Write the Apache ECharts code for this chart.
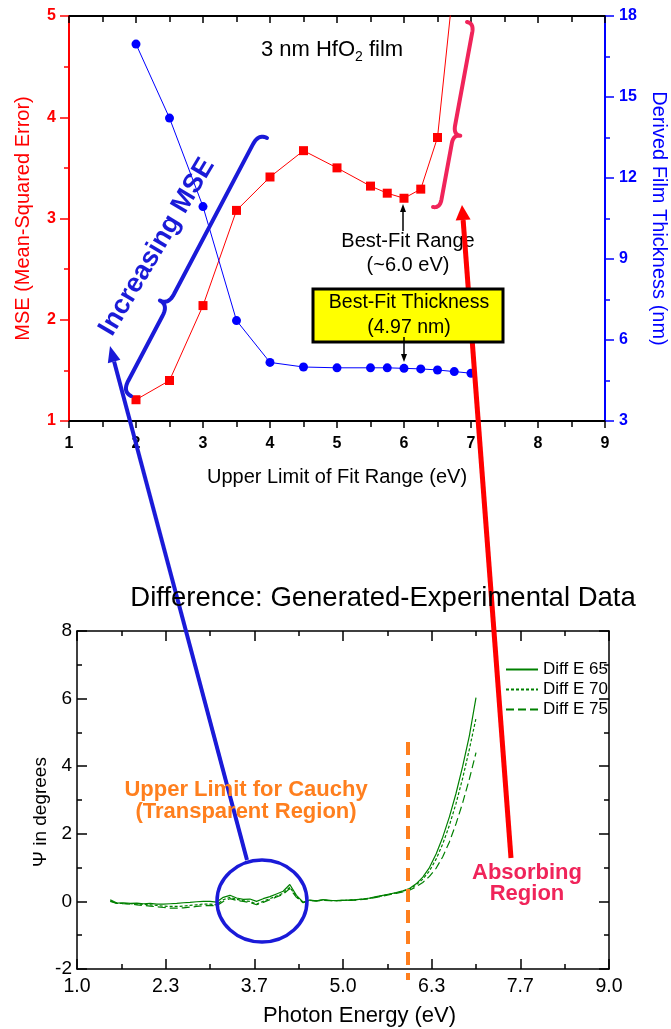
<!DOCTYPE html>
<html>
<head>
<meta charset="utf-8">
<script src="https://cdn.jsdelivr.net/npm/echarts@6/dist/echarts.min.js"></script>
<style>
  html, body { margin: 0; padding: 0; background: #fff; }
  #main { width: 671px; height: 1029px; }
</style>
</head>
<body>
<div id="main"></div>
<script>
// upper chart: MSE and thickness vs upper limit of fit range
const fitUpper = [2, 2.5, 3, 3.5, 4, 4.5, 5, 5.5, 5.75, 6, 6.25, 6.5, 6.75, 7];
const mseValues = [1.21, 1.40, 2.14, 3.08, 3.41, 3.67, 3.50, 3.32, 3.25, 3.20, 3.29, 3.80, 5.38, 6.96];
const thicknessValues = [16.96, 14.22, 10.94, 6.72, 5.17, 5.00, 4.97, 4.97, 4.97, 4.95, 4.93, 4.89, 4.83, 4.77];

// lower chart: difference generated - experimental
const photonEnergy = [1.5, 1.6, 1.7, 1.8, 1.9, 2.0, 2.1, 2.2, 2.3, 2.4, 2.5, 2.6, 2.7, 2.8, 2.9, 3.0, 3.1, 3.2, 3.3, 3.4,
  3.5, 3.6, 3.7, 3.8, 3.9, 4.0, 4.1, 4.2, 4.3, 4.4, 4.5, 4.6, 4.7, 4.8, 4.9, 5.0, 5.1, 5.2, 5.3, 5.4,
  5.5, 5.6, 5.7, 5.8, 5.9, 6.0, 6.1, 6.2, 6.3, 6.4, 6.5, 6.6, 6.7, 6.8, 6.9, 7.0];
const diffE65 = [0.05, -0.05, -0.04, -0.06, -0.05, -0.07, -0.06, -0.08, -0.08, -0.07,
  -0.06, -0.04, -0.03, -0.01, 0.0, 0.0, -0.02, 0.12, 0.18, 0.10,
  0.06, 0.07, 0.0, 0.08, 0.14, 0.22, 0.30, 0.50, 0.18, -0.02,
  0.04, 0.02, 0.05, 0.03, 0.02, 0.03, 0.04, 0.05, 0.07, 0.10,
  0.14, 0.18, 0.22, 0.26, 0.31, 0.38, 0.52, 0.72, 1.0, 1.4,
  1.9, 2.5, 3.2, 4.0, 4.9, 6.03];
const diffE70 = [0.02, -0.06, -0.06, -0.07, -0.08, -0.09, -0.10, -0.12, -0.14, -0.15,
  -0.15, -0.14, -0.12, -0.10, -0.08, -0.08, -0.10, 0.05, 0.12, 0.06,
  0.02, 0.0, -0.08, 0.0, 0.08, 0.16, 0.24, 0.42, 0.14, -0.03,
  0.03, 0.02, 0.04, 0.03, 0.02, 0.03, 0.04, 0.05, 0.07, 0.09,
  0.13, 0.17, 0.21, 0.25, 0.30, 0.36, 0.49, 0.66, 0.9, 1.25,
  1.7, 2.25, 2.9, 3.65, 4.5, 5.42];
const diffE75 = [0.0, -0.06, -0.07, -0.08, -0.10, -0.12, -0.14, -0.16, -0.18, -0.20,
  -0.20, -0.19, -0.17, -0.15, -0.13, -0.12, -0.13, 0.0, 0.08, 0.03,
  0.0, -0.03, -0.10, -0.03, 0.05, 0.13, 0.21, 0.38, 0.12, -0.04,
  0.02, 0.01, 0.03, 0.02, 0.02, 0.03, 0.03, 0.04, 0.06, 0.08,
  0.12, 0.16, 0.20, 0.24, 0.28, 0.33, 0.43, 0.56, 0.74, 0.98,
  1.32, 1.76, 2.3, 2.92, 3.62, 4.4];

const FONT = "'Liberation Sans', Arial, sans-serif";
const chart = echarts.init(document.getElementById("main"));

function pairs(xs, ys) {
  return xs.map((x, i) => [x, ys[i]]);
}

// arrow with filled head at (x2, y2)
function arrow(x1, y1, x2, y2, color, w, headLen, headW, z) {
  z = z || 100;
  const dx = x2 - x1, dy = y2 - y1, L = Math.hypot(dx, dy);
  const ux = dx / L, uy = dy / L;
  const bx = x2 - ux * headLen, by = y2 - uy * headLen;
  return [
    { type: "line", z: z, shape: { x1: x1, y1: y1, x2: bx, y2: by }, style: { stroke: color, lineWidth: w } },
    { type: "polygon", z: z, shape: { points: [[x2, y2], [bx - uy * headW / 2, by + ux * headW / 2], [bx + uy * headW / 2, by - ux * headW / 2]] }, style: { fill: color } }
  ];
}

// curly brace from p0 to p1, cusp at distance sc, pointing to side (sampled as polyline)
function brace(p0, p1, sc, h, r, side, color, w) {
  const dx = p1[0] - p0[0], dy = p1[1] - p0[1], L = Math.hypot(dx, dy);
  const ux = dx / L, uy = dy / L;
  const nx = -uy * side, ny = ux * side;
  const P = (s, d) => [p0[0] + ux * s + nx * d, p0[1] + uy * s + ny * d];
  const pts = [];
  function quad(a, c, b) {
    for (let i = 0; i <= 12; i++) {
      const t = i / 12, m = 1 - t;
      pts.push([m * m * a[0] + 2 * m * t * c[0] + t * t * b[0], m * m * a[1] + 2 * m * t * c[1] + t * t * b[1]]);
    }
  }
  quad(P(0, 0), P(0, h), P(r, h));
  quad(P(sc - r, h), P(sc, h), P(sc, 2 * h));
  quad(P(sc, 2 * h), P(sc, h), P(sc + r, h));
  quad(P(L - r, h), P(L, h), P(L, 0));
  return { type: "polyline", z: 100, shape: { points: pts }, style: { fill: null, stroke: color, lineWidth: w, lineCap: "round", lineJoin: "round" } };
}

const blueAnn = "#1a1ad8";
const redAnn = "#f0245a";

const graphics = [
  // top chart title
  {
    type: "text", z: 100, x: 332, y: 50,
    style: {
      text: "{a|3 nm HfO}{s|2}{a| film}", align: "center", verticalAlign: "middle",
      rich: {
        a: { fontFamily: FONT, fontSize: 22, fill: "#000", lineHeight: 28 },
        s: { fontFamily: FONT, fontSize: 14, fill: "#000", verticalAlign: "bottom", lineHeight: 14 }
      }
    }
  },
  {
    type: "text", z: 100, x: 408, y: 253,
    style: { text: "Best-Fit Range\n(~6.0 eV)", fontFamily: FONT, fontSize: 20, lineHeight: 24, fill: "#000", align: "center", verticalAlign: "middle" }
  },
  ...arrow(403, 231, 403, 204, "#000", 1.5, 8, 6),
  ...arrow(511, 858, 462, 205, "#ff0000", 5, 15, 15),
  {
    type: "rect", z: 110, shape: { x: 313, y: 289, width: 190, height: 53 },
    style: { fill: "#ffff00", stroke: "#000", lineWidth: 3 }
  },
  {
    type: "text", z: 111, x: 409, y: 315,
    style: { text: "Best-Fit Thickness\n(4.97 nm)", fontFamily: FONT, fontSize: 19.5, lineHeight: 25, fill: "#000", align: "center", verticalAlign: "middle" }
  },
  ...arrow(404, 337, 404, 362, "#000", 1.5, 8, 6, 112),
  brace([131, 396], [267, 138], 98, 9.5, 12, -1, blueAnn, 4),
  {
    type: "text", z: 100, x: 157, y: 247, rotation: 59.3 * Math.PI / 180,
    style: { text: "Increasing MSE", fontFamily: FONT, fontWeight: "bold", fontSize: 27, fill: blueAnn, align: "center", verticalAlign: "middle" }
  },
  brace([433, 207], [467, 22], 75, 7, 9, 1, redAnn, 4),
  ...arrow(247, 860, 110, 346, blueAnn, 4, 16, 13),
  // bottom chart title
  {
    type: "text", z: 100, x: 383, y: 598,
    style: { text: "Difference: Generated-Experimental Data", fontFamily: FONT, fontSize: 27.5, fill: "#000", align: "center", verticalAlign: "middle" }
  },
  {
    type: "text", z: 100, x: 246, y: 801,
    style: { text: "Upper Limit for Cauchy\n(Transparent Region)", fontFamily: FONT, fontWeight: "bold", fontSize: 22, lineHeight: 22, fill: "#ff7f1e", align: "center", verticalAlign: "middle" }
  },
  {
    type: "line", z: 100, shape: { x1: 408, y1: 742, x2: 408, y2: 980 },
    style: { stroke: "#ff7f1e", lineWidth: 4, lineDash: [13, 8] }
  },
  {
    type: "ellipse", z: 100, shape: { cx: 262, cy: 901, rx: 45, ry: 41 },
    style: { fill: null, stroke: blueAnn, lineWidth: 3.5 }
  },
  {
    type: "text", z: 100, x: 527, y: 883,
    style: { text: "Absorbing\nRegion", fontFamily: FONT, fontWeight: "bold", fontSize: 22, lineHeight: 21, fill: redAnn, align: "center", verticalAlign: "middle" }
  }
];

const option = {
  animation: false,
  backgroundColor: "#fff",
  textStyle: { fontFamily: FONT },
  grid: [
    { left: 69, right: 66, top: 16, height: 405, outerBoundsMode: "none" },
    { left: 77, right: 62, top: 631, height: 338, outerBoundsMode: "none" }
  ],
  legend: {
    data: ["Diff E 65", "Diff E 70", "Diff E 75"],
    orient: "vertical", left: 500, top: 656,
    itemWidth: 32, itemHeight: 12, itemGap: 3,
    itemStyle: { opacity: 0 },
    textStyle: { fontFamily: FONT, fontSize: 17, color: "#000" }
  },
  xAxis: [
    {
      gridIndex: 0, type: "value", position: "bottom", min: 1, max: 9, interval: 1,
      name: "Upper Limit of Fit Range (eV)", nameLocation: "middle", nameGap: 46,
      nameTextStyle: { fontFamily: FONT, fontSize: 20, color: "#000" },
      axisLine: { onZero: false, lineStyle: { color: "#000", width: 2 } },
      axisTick: { show: true, inside: false, length: 7, lineStyle: { width: 1.5 } },
      minorTick: { show: true, splitNumber: 2, length: 6, lineStyle: { color: "#000", width: 1.5 } },
      axisLabel: { fontFamily: FONT, fontSize: 16, fontWeight: "bold", color: "#000", margin: 15 },
      splitLine: { show: false }
    },
    {
      gridIndex: 0, type: "value", position: "top", min: 1, max: 9, interval: 1,
      axisLine: { onZero: false, lineStyle: { color: "#000", width: 2 } },
      axisTick: { show: true, inside: true, length: 7, lineStyle: { width: 1.5 } },
      minorTick: { show: true, splitNumber: 2, length: 6, lineStyle: { color: "#000", width: 1.5 } },
      axisLabel: { show: false },
      splitLine: { show: false }
    },
    {
      gridIndex: 1, type: "value", position: "bottom", min: 1, max: 9, interval: 4 / 3,
      name: "Photon Energy (eV)", nameLocation: "middle", nameGap: 36,
      nameTextStyle: { fontFamily: FONT, fontSize: 22, color: "#000", padding: [0, 0, 0, 33] },
      axisLine: { onZero: false, lineStyle: { color: "#000", width: 1.5 } },
      axisTick: { show: true, inside: true, length: 10, lineStyle: { width: 1.5 } },
      minorTick: { show: true, splitNumber: 2, length: 5, lineStyle: { color: "#000", width: 1.5 } },
      axisLabel: { fontFamily: FONT, fontSize: 19.5, color: "#000", margin: 8, formatter: v => v.toFixed(1) },
      splitLine: { show: false }
    },
    {
      gridIndex: 1, type: "value", position: "top", min: 1, max: 9, interval: 4 / 3,
      axisLine: { onZero: false, lineStyle: { color: "#000", width: 1.5 } },
      axisTick: { show: true, inside: true, length: 10, lineStyle: { width: 1.5 } },
      minorTick: { show: true, splitNumber: 2, length: 5, lineStyle: { color: "#000", width: 1.5 } },
      axisLabel: { show: false },
      splitLine: { show: false }
    }
  ],
  yAxis: [
    {
      gridIndex: 0, type: "value", position: "left", min: 1, max: 5, interval: 1,
      name: "MSE (Mean-Squared Error)", nameLocation: "middle", nameGap: 36,
      nameTextStyle: { fontFamily: FONT, fontSize: 20, color: "#ff0000" },
      axisLine: { onZero: false, show: true, lineStyle: { color: "#ff0000", width: 2 } },
      axisTick: { show: true, inside: false, length: 9, lineStyle: { width: 1.5 } },
      minorTick: { show: true, splitNumber: 2, length: 5, lineStyle: { color: "#ff0000", width: 1.5 } },
      axisLabel: { fontFamily: FONT, fontSize: 16, fontWeight: "bold", color: "#ff0000", margin: 13 },
      splitLine: { show: false }
    },
    {
      gridIndex: 0, type: "value", position: "right", min: 3, max: 18, interval: 3,
      name: "Derived Film Thickness (nm)", nameLocation: "middle", nameGap: 44, nameRotate: -90,
      nameTextStyle: { fontFamily: FONT, fontSize: 20, color: "#0000ff" },
      axisLine: { onZero: false, show: true, lineStyle: { color: "#0000ff", width: 2 } },
      axisTick: { show: true, inside: false, length: 9, lineStyle: { width: 1.5 } },
      minorTick: { show: true, splitNumber: 2, length: 5, lineStyle: { color: "#0000ff", width: 1.5 } },
      axisLabel: { fontFamily: FONT, fontSize: 16, fontWeight: "bold", color: "#0000ff", margin: 14 },
      splitLine: { show: false }
    },
    {
      gridIndex: 1, type: "value", position: "left", min: -2, max: 8, interval: 2,
      name: "Ψ in degrees", nameLocation: "middle", nameGap: 27, nameMoveOverlap: false,
      nameTextStyle: { fontFamily: FONT, fontSize: 19, color: "#000", padding: [0, 24, 0, 0] },
      axisLine: { onZero: false, show: true, lineStyle: { color: "#000", width: 1.5 } },
      axisTick: { show: true, inside: true, length: 10, lineStyle: { width: 1.5 } },
      minorTick: { show: true, splitNumber: 2, length: 5, lineStyle: { color: "#000", width: 1.5 } },
      axisLabel: { fontFamily: FONT, fontSize: 19, color: "#000", margin: 5 },
      splitLine: { show: false }
    },
    {
      gridIndex: 1, type: "value", position: "right", min: -2, max: 8, interval: 2,
      axisLine: { onZero: false, show: true, lineStyle: { color: "#000", width: 1.5 } },
      axisTick: { show: true, inside: true, length: 10, lineStyle: { width: 1.5 } },
      minorTick: { show: true, splitNumber: 2, length: 5, lineStyle: { color: "#000", width: 1.5 } },
      axisLabel: { show: false },
      splitLine: { show: false }
    }
  ],
  series: [
    {
      name: "MSE", type: "line", xAxisIndex: 0, yAxisIndex: 0,
      data: pairs(fitUpper, mseValues), clip: true,
      symbol: "rect", symbolSize: 9, showAllSymbol: true,
      itemStyle: { color: "#ff0000" }, lineStyle: { color: "#ff0000", width: 1 }
    },
    {
      name: "Thickness", type: "line", xAxisIndex: 0, yAxisIndex: 1,
      data: pairs(fitUpper, thicknessValues), clip: true,
      symbol: "circle", symbolSize: 9, showAllSymbol: true,
      itemStyle: { color: "#0000ff" }, lineStyle: { color: "#0000ff", width: 1 }
    },
    {
      name: "Diff E 65", type: "line", xAxisIndex: 2, yAxisIndex: 2,
      data: pairs(photonEnergy, diffE65), symbol: "none",
      itemStyle: { color: "#008000" }, lineStyle: { color: "#008000", width: 1.2, type: "solid" }
    },
    {
      name: "Diff E 70", type: "line", xAxisIndex: 2, yAxisIndex: 2,
      data: pairs(photonEnergy, diffE70), symbol: "none",
      itemStyle: { color: "#008000" }, lineStyle: { color: "#008000", width: 1.2, type: [3, 2] }
    },
    {
      name: "Diff E 75", type: "line", xAxisIndex: 2, yAxisIndex: 2,
      data: pairs(photonEnergy, diffE75), symbol: "none",
      itemStyle: { color: "#008000" }, lineStyle: { color: "#008000", width: 1.2, type: [8, 4] }
    }
  ],
  graphic: graphics
};

chart.setOption(option);
</script>
</body>
</html>
